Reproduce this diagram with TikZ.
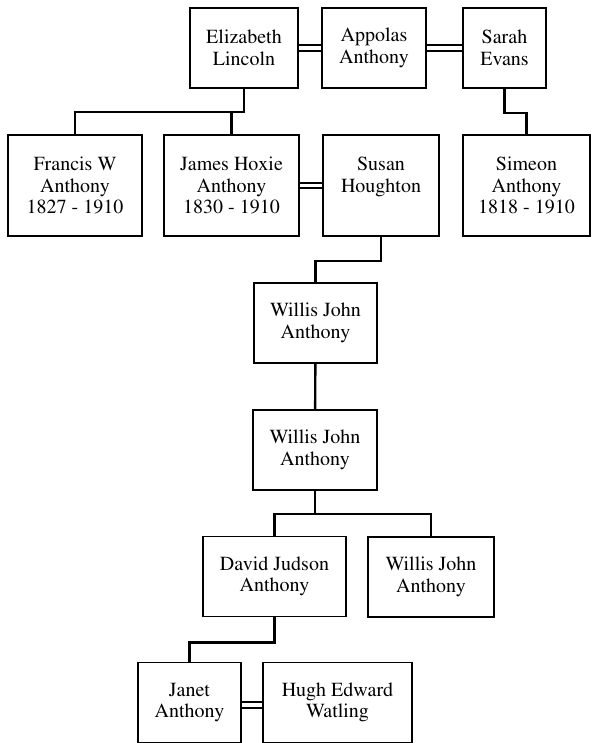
\documentclass[tikz,border=0pt]{standalone}
\usepackage[T1]{fontenc}
\usepackage{mathptmx}
\usepackage{tikz}
\usetikzlibrary{positioning}

\begin{document}
\begin{tikzpicture}[
  x=1pt, y=-1pt,
  % family tree box style
  person/.style={rectangle,draw=black,line width=1.8pt,inner sep=0pt,align=center,
    font=\fontsize{20}{21.5}\selectfont,minimum height=80pt},
  child/.style={draw=black,line width=2.4pt},
  married/.style={draw=black,double=white,line width=2.2pt,double distance=3.5pt}
]
\useasboundingbox (0,0) rectangle (592,743);

\node[person,minimum width=108pt] (eliz) at (244,48) {Elizabeth\\Lincoln};     % top left
\node[person,minimum width=104pt] (appolas) at (374,48) {Appolas\\Anthony};   % top middle
\node[person,minimum width=83pt] (sarah) at (504.5,48) {Sarah\\Evans};         % top right

\node[person,minimum width=134pt,minimum height=101pt] (francis) at (75,185.5) {Francis W\\Anthony\\1827 - 1910};
\node[person,minimum width=135pt,minimum height=101pt] (james) at (231.5,185.5) {James Hoxie\\Anthony\\1830 - 1910};
\node[person,minimum width=116pt,minimum height=101pt] (susan) at (381,185.5) {Susan\\Houghton\\\mbox{}};
\node[person,minimum width=127pt,minimum height=101pt] (simeon) at (526.5,185.5) {Simeon\\Anthony\\1818 - 1910};

\node[person,minimum width=123pt] (willisA) at (315.5,323) {Willis John\\Anthony};
\node[person,minimum width=124pt] (willisB) at (315,450) {Willis John\\Anthony};

\node[person,minimum width=143pt] (david) at (274.5,576.5) {David Judson\\Anthony};
\node[person,minimum width=126pt] (willisC) at (431,577) {Willis John\\Anthony};

\node[person,minimum width=103pt] (janet) at (189.5,702.5) {Janet\\Anthony};
\node[person,minimum width=149pt] (hugh) at (337.5,702.5) {Hugh Edward\\Watling};

% marriages
\draw[married] (eliz)--(appolas);
\draw[married] (appolas)--(sarah);
\draw[married] (james)--(susan);
\draw[married] ([yshift=-2.5pt]janet.east)--([yshift=-2.5pt]hugh.west);

% descent
\draw[child] (eliz.south) -- ++(0,23) -| (francis.north);
\draw[child] (eliz.south) -- ++(0,23) -| (james.north);
\draw[child] (sarah.south) -- ++(0,24) -| (simeon.north);
\draw[child] (susan.south) -- ++(0,24) -| (willisA.north);
\draw[child] (willisA) -- (willisB);
\draw[child] (willisB.south) -- ++(0,23) -| (david.north);
\draw[child] (willisB.south) -- ++(0,23) -| (willisC.north);
\draw[child] (david.south) -- ++(0,25) -| (janet.north);

\end{tikzpicture}
\end{document}
